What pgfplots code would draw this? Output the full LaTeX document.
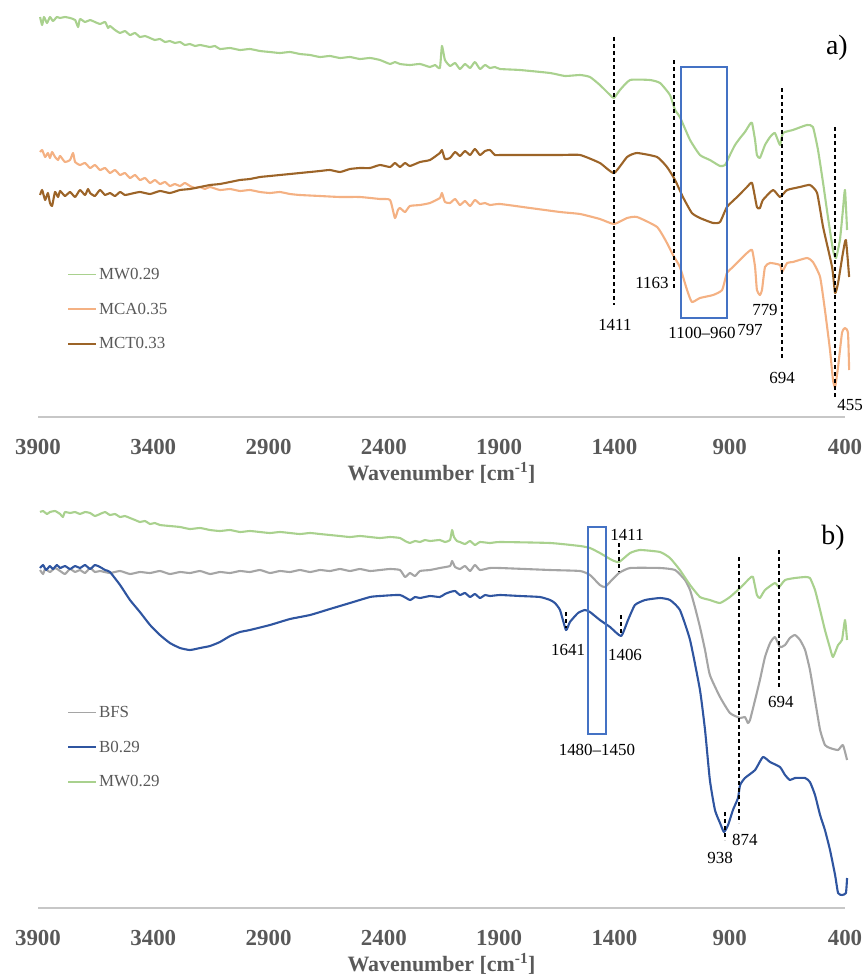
\documentclass[border=0pt]{standalone}
\usepackage{fontspec}
\setmainfont{Liberation Serif}
\usepackage{pgfplots}
\pgfplotsset{compat=1.18}
\definecolor{cgreen}{HTML}{A9D18E}
\definecolor{corange}{HTML}{F4B183}
\definecolor{cbrown}{HTML}{9C6428}
\definecolor{cgray}{HTML}{A5A5A5}
\definecolor{cblue}{HTML}{2F55A0}
\definecolor{ctick}{HTML}{595959}
\definecolor{cbox}{HTML}{4472C4}
\pgfplotsset{ftir/.style={
  scale only axis, width=807bp, xmin=400, xmax=3900, x dir=reverse, ymin=0,
  axis x line*=bottom, axis y line=none,
  xtick={400,900,1400,1900,2400,2900,3400,3900},
  xticklabels={400,900,1400,1900,2400,2900,3400,3900},
  major tick length=0pt,
  x axis line style={draw=black!22, line width=1.5bp},
  xticklabel style={font=\fontsize{23}{26}\selectfont\bfseries, text=ctick, anchor=center, yshift=-30bp},
  xlabel={Wavenumber [cm\textsuperscript{-1}]},
  xlabel style={font=\fontsize{22}{26}\selectfont\bfseries, text=ctick, at={(axis description cs:0.5,0)}, anchor=center, yshift=-56bp},
  clip=false,
  legend cell align=left,
  legend image code/.code={\draw[#1, line width=1.8bp] (0bp,0bp) -- (28bp,0bp);},
  legend style={draw=none, fill=none, inner sep=0pt, anchor=north west,
    font=\fontsize{17}{20}\selectfont, text=ctick, row sep=18bp},
  every axis plot/.append style={line width=2.1bp, mark=none, line join=round, smooth, tension=0.3},
}}
\tikzset{dl/.style={black, dash pattern=on 4bp off 3bp, line width=1.3bp},
  lab/.style={font=\fontsize{17}{19}\selectfont, inner sep=0pt}}
\begin{document}
\begin{tikzpicture}
\path[use as bounding box] (0,0) rectangle (868bp,-978bp);
% ---------------- panel a ----------------
\begin{axis}[ftir, height=407bp, ymax=407, at={(38bp,-417bp)}, anchor=south west,
  legend style={at={(0.036,0.371)}}]
\addplot[cgreen] coordinates {(3891,400)(3882,392)(3874,400)(3861,394)(3848,400)(3835,396)(3818,400)(3805,399)(3783,400)(3761,399)(3739,397)(3726,390)(3718,398)(3696,395)(3674,397)(3653,395)(3631,393)(3609,395)(3596,389)(3588,391)(3566,387)(3544,384)(3523,386)(3501,382)(3479,384)(3458,380)(3436,381)(3414,379)(3393,377)(3371,378)(3349,375)(3328,376)(3306,374)(3284,375)(3263,372)(3241,373)(3219,371)(3197,372)(3154,370)(3132,371)(3111,368)(3067,369)(3024,367)(2981,368)(2937,366)(2894,365)(2851,364)(2807,365)(2764,363)(2720,362)(2677,360)(2634,361)(2590,359)(2547,360)(2504,358)(2460,359)(2417,357)(2373,353)(2352,355)(2330,353)(2287,352)(2243,353)(2200,350)(2178,352)(2157,349)(2148,371)(2135,357)(2113,351)(2091,354)(2070,348)(2048,353)(2026,349)(2005,355)(1983,348)(1961,352)(1940,349)(1918,350)(1896,348)(1810,347)(1679,344)(1614,341)(1549,342)(1506,340)(1463,332)(1419,322)(1402,319)(1376,327)(1332,337)(1246,337)(1202,334)(1159,322)(1137,307)(1116,300)(1072,277)(1029,262)(986,257)(942,251)(920,252)(899,262)(877,272)(855,279)(834,285)(812,293)(803,294)(790,277)(782,262)(769,259)(747,272)(725,280)(704,284)(682,272)(669,284)(626,287)(565,292)(539,290)(517,267)(495,234)(474,200)(452,167)(439,159)(422,177)(409,207)(400,227)(391,187)};
\addlegendentry{MW0.29}
\addplot[corange] coordinates {(3891,265)(3882,267)(3869,260)(3857,264)(3848,259)(3839,265)(3826,260)(3813,257)(3804,261)(3783,255)(3761,257)(3748,264)(3739,255)(3718,252)(3696,254)(3674,249)(3653,252)(3631,247)(3609,249)(3588,244)(3566,247)(3544,242)(3523,244)(3501,239)(3479,242)(3458,237)(3436,239)(3414,234)(3393,237)(3371,233)(3349,235)(3328,231)(3306,233)(3284,231)(3263,234)(3241,231)(3219,229)(3197,230)(3176,228)(3154,230)(3111,227)(3067,228)(3024,226)(2981,227)(2937,225)(2894,224)(2851,225)(2807,223)(2764,222)(2677,221)(2590,220)(2504,220)(2417,218)(2373,217)(2352,199)(2339,207)(2330,209)(2308,205)(2287,211)(2243,212)(2200,214)(2157,219)(2148,224)(2135,215)(2113,214)(2091,218)(2070,212)(2048,216)(2026,211)(2005,217)(1983,213)(1961,214)(1940,212)(1896,213)(1766,209)(1636,205)(1549,203)(1463,198)(1402,193)(1345,199)(1302,200)(1215,190)(1172,174)(1146,162)(1116,150)(1085,127)(1064,115)(1029,119)(972,122)(933,127)(912,144)(886,150)(825,164)(803,167)(790,150)(782,127)(769,122)(760,127)(747,150)(725,154)(682,152)(673,145)(651,154)(626,155)(565,159)(539,155)(508,140)(487,107)(465,67)(452,37)(443,30)(430,50)(413,84)(400,89)(387,84)(382,47)};
\addlegendentry{MCA0.35}
\addplot[cbrown] coordinates {(3891,222)(3882,227)(3869,217)(3857,224)(3848,214)(3839,211)(3826,225)(3813,220)(3804,226)(3783,221)(3761,225)(3739,220)(3718,227)(3696,222)(3683,228)(3674,224)(3653,221)(3631,227)(3609,222)(3588,224)(3566,221)(3544,225)(3523,222)(3501,223)(3458,225)(3414,223)(3371,226)(3328,224)(3284,227)(3241,228)(3197,230)(3154,232)(3111,233)(3067,235)(3024,237)(2981,238)(2937,240)(2894,241)(2851,242)(2807,243)(2764,244)(2720,245)(2677,246)(2634,247)(2590,245)(2547,248)(2504,249)(2460,249)(2417,252)(2373,250)(2352,254)(2330,250)(2308,254)(2287,251)(2243,255)(2200,257)(2157,264)(2148,267)(2135,258)(2113,259)(2091,265)(2070,261)(2048,266)(2026,262)(2005,268)(1983,262)(1961,266)(1940,267)(1918,262)(1896,262)(1766,262)(1636,262)(1549,262)(1463,254)(1402,244)(1345,260)(1302,264)(1215,260)(1172,250)(1137,237)(1103,220)(1064,204)(1029,199)(972,194)(942,195)(912,210)(868,220)(825,230)(803,234)(782,210)(769,209)(756,217)(712,227)(682,220)(651,227)(595,230)(552,232)(521,224)(495,190)(456,150)(443,124)(430,134)(409,164)(396,177)(382,140)};
\addlegendentry{MCT0.33}
\draw[dl] (axis cs:1402,380) -- (axis cs:1402,112);
\draw[dl] (axis cs:1142,357) -- (axis cs:1142,127);
\draw[dl] (axis cs:673,329) -- (axis cs:673,59);
\draw[dl] (axis cs:443,290) -- (axis cs:443,20);
\draw[cbox, line width=1.3bp] (axis cs:1111,350) rectangle (axis cs:912,99);
\node[lab] at (axis cs:1398,92) {1411};
\node[lab] at (axis cs:1237,134) {1163};
\node[lab] at (axis cs:1020,84) {1100–960};
\node[lab] at (axis cs:812,87) {797};
\node[lab] at (axis cs:747,107) {779};
\node[lab] at (axis cs:673,39) {694};
\node[lab] at (axis cs:378,12) {455};
\node[font=\fontsize{28}{30}\selectfont, inner sep=0pt] at (axis cs:435,369) {a)};
\end{axis}
% ---------------- panel b ----------------
\begin{axis}[ftir, height=408bp, ymax=408, at={(38bp,-908bp)}, anchor=south west,
  legend style={at={(0.036,0.50)}}]
\addplot[cgray] coordinates {(3891,338)(3878,334)(3869,339)(3848,336)(3826,340)(3804,337)(3783,334)(3761,339)(3739,336)(3718,338)(3696,335)(3674,340)(3653,336)(3631,337)(3588,335)(3544,337)(3501,334)(3458,336)(3414,335)(3371,337)(3328,334)(3284,336)(3241,335)(3197,337)(3154,334)(3111,336)(3067,335)(3024,337)(2981,336)(2937,338)(2894,335)(2851,337)(2807,336)(2764,338)(2720,336)(2677,338)(2634,337)(2590,339)(2547,337)(2504,339)(2460,337)(2417,338)(2373,339)(2330,338)(2308,331)(2287,335)(2265,332)(2243,337)(2200,338)(2157,340)(2113,342)(2104,347)(2091,341)(2070,339)(2048,342)(2026,337)(2005,343)(1983,338)(1940,340)(1896,340)(1679,338)(1549,337)(1506,333)(1463,323)(1441,321)(1411,328)(1380,335)(1332,340)(1202,340)(1137,338)(1094,328)(1072,318)(1051,301)(1029,281)(1007,258)(986,233)(942,211)(899,195)(855,190)(834,191)(821,185)(812,188)(790,208)(769,228)(747,251)(725,265)(704,271)(682,261)(660,263)(639,270)(617,273)(595,268)(573,258)(552,238)(530,208)(508,178)(487,163)(465,160)(430,158)(409,163)(391,148)};
\addlegendentry{BFS}
\addplot[cblue] coordinates {(3891,340)(3878,343)(3865,338)(3848,342)(3835,339)(3818,343)(3804,340)(3783,342)(3761,339)(3739,342)(3718,340)(3696,343)(3674,339)(3653,343)(3631,341)(3609,338)(3588,336)(3544,323)(3501,308)(3458,296)(3414,283)(3371,273)(3328,265)(3284,260)(3241,258)(3197,260)(3154,262)(3111,266)(3067,272)(3024,276)(2981,278)(2894,283)(2807,289)(2720,293)(2634,299)(2547,305)(2460,311)(2417,312)(2330,313)(2287,308)(2265,311)(2243,310)(2200,312)(2157,311)(2135,314)(2113,316)(2091,317)(2070,313)(2048,315)(2026,311)(2005,314)(1983,310)(1961,313)(1940,312)(1896,313)(1810,312)(1723,311)(1679,308)(1658,305)(1636,298)(1610,278)(1593,286)(1558,295)(1528,298)(1506,296)(1463,288)(1419,281)(1371,272)(1341,288)(1311,303)(1267,308)(1202,310)(1159,308)(1116,298)(1072,268)(1029,218)(1007,178)(986,128)(964,98)(942,85)(925,76)(907,83)(886,98)(864,110)(855,123)(834,130)(790,138)(756,151)(725,146)(682,141)(660,133)(639,128)(617,130)(573,130)(552,126)(530,113)(508,93)(487,78)(465,58)(443,33)(430,15)(413,13)(396,15)(391,30)};
\addlegendentry{B0.29}
\addplot[cgreen] coordinates {(3891,396)(3878,397)(3861,394)(3848,396)(3826,397)(3804,394)(3792,391)(3783,396)(3761,395)(3739,396)(3718,394)(3696,396)(3674,395)(3653,392)(3631,394)(3609,396)(3588,393)(3566,394)(3544,391)(3523,392)(3501,390)(3479,388)(3458,386)(3436,387)(3414,384)(3393,385)(3371,383)(3328,382)(3284,381)(3241,379)(3197,380)(3154,378)(3111,377)(3067,378)(3024,376)(2981,377)(2937,376)(2894,375)(2851,376)(2807,375)(2764,374)(2720,375)(2677,374)(2634,373)(2590,372)(2547,371)(2504,372)(2460,371)(2417,370)(2373,371)(2330,370)(2308,367)(2287,365)(2265,367)(2243,366)(2222,368)(2200,367)(2157,368)(2135,366)(2113,368)(2104,378)(2096,371)(2083,367)(2070,366)(2048,364)(2026,367)(2005,363)(1983,366)(1940,365)(1896,366)(1679,365)(1549,362)(1506,360)(1463,355)(1411,348)(1380,346)(1332,355)(1289,358)(1202,356)(1159,350)(1116,338)(1072,323)(1029,311)(986,308)(942,305)(899,311)(855,320)(812,330)(799,331)(782,313)(769,310)(747,318)(704,325)(686,321)(660,328)(617,330)(573,331)(552,330)(530,318)(508,298)(487,278)(465,260)(452,251)(430,263)(413,268)(400,288)(391,268)};
\addlegendentry{MW0.29}
\draw[dl] (axis cs:1380,365) -- (axis cs:1380,336);
\draw[dl] (axis cs:1610,296) -- (axis cs:1610,280);
\draw[dl] (axis cs:1371,293) -- (axis cs:1371,273);
\draw[dl] (axis cs:686,358) -- (axis cs:686,221);
\draw[dl] (axis cs:860,351) -- (axis cs:860,85);
\draw[dl] (axis cs:920,96) -- (axis cs:920,68);
\draw[cbox, line width=1.3bp] (axis cs:1515,381) rectangle (axis cs:1437,174);
\node[lab] at (axis cs:1345,373) {1411};
\node[lab] at (axis cs:1601,258) {1641};
\node[lab] at (axis cs:1354,253) {1406};
\node[lab] at (axis cs:678,206) {694};
\node[lab] at (axis cs:834,68) {874};
\node[lab] at (axis cs:942,50) {938};
\node[lab] at (axis cs:1476,158) {1480–1450};
\node[font=\fontsize{28}{30}\selectfont, inner sep=0pt] at (axis cs:452,370) {b)};
\end{axis}
\end{tikzpicture}
\end{document}
